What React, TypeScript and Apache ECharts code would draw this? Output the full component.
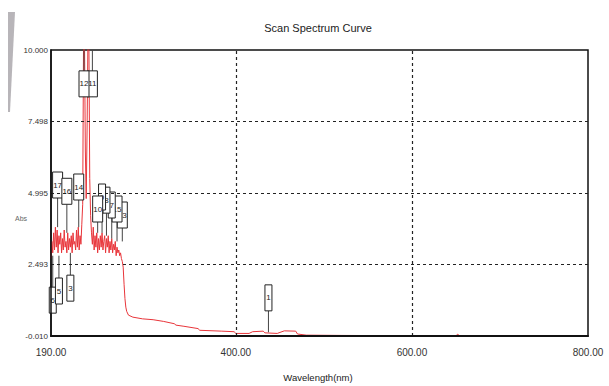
import React, { useEffect, useRef } from "react";
import * as echarts from "echarts";

// ---- data ----
const wavelengths = [
  190, 191, 192, 193, 194, 195, 196, 197, 198, 199,
  200, 201, 202, 203, 204, 205, 206, 207, 208, 209,
  210, 211, 212, 213, 214, 215, 216, 217, 218, 219,
  220, 221, 222, 223, 224, 225, 226, 227, 228, 229,
  230, 231, 232, 233, 234, 235, 236, 237, 238, 239,
  240, 241, 242, 243, 244, 245, 246, 247, 248, 249,
  250, 251, 252, 253, 254, 255, 256, 257, 258, 259,
  260, 261, 262, 263, 264, 265, 266, 267, 268, 269,
  270, 271, 272, 273, 274, 275, 276,
  278, 283, 294, 306, 318, 330, 332, 341, 357, 359,
  384, 398, 400, 415, 419, 431, 433, 447, 455, 468,
  470, 480, 520, 600, 650, 652, 654, 700, 800,
];
const absorbance = [
  2.7, 3.3, 2.9, 3.6, 3.0, 3.8, 3.1, 3.7, 2.9, 3.5,
  3.2, 3.6, 2.9, 3.4, 3.0, 3.7, 3.1, 3.3, 2.9, 3.6,
  3.0, 3.4, 3.1, 3.5, 2.9, 3.6, 3.2, 3.3, 3.0, 3.7,
  3.1, 3.8, 3.0, 3.5, 3.2, 3.9, 4.6, 10.5, 10.5, 6.5,
  4.8, 7.2, 10.5, 10.5, 5.5, 4.2, 3.6, 3.2, 3.8, 3.0,
  3.5, 3.1, 3.6, 2.9, 3.4, 3.0, 3.5, 3.1, 3.6, 3.0,
  3.3, 3.5, 2.9, 3.4, 3.1, 3.5, 2.9, 3.3, 3.0, 3.4,
  2.9, 3.2, 3.0, 3.3, 2.8, 3.1, 2.9, 3.0, 2.8, 2.9,
  2.7, 2.6, 2.4, 1.8, 1.3, 1.0, 0.85,
  0.72, 0.65, 0.59, 0.56, 0.5, 0.42, 0.37, 0.33, 0.25, 0.19,
  0.16, 0.14, 0.08, 0.08, 0.14, 0.16, 0.1, 0.08, 0.17, 0.16,
  0.06, 0.02, 0.01, 0.0, 0.0, 0.05, 0.0, 0.0, 0.0,
];

const xTicks = [190, 400, 600, 800];
const yTicks = [-0.01, 2.493, 4.995, 7.498, 10.0];
const xGridLines = [400, 600];
const yGridLines = [2.493, 4.995, 7.498];

// peak / valley markers
const markerNames = ["13", "15", "7", "8", "9", "10", "11", "12", "17", "16", "14", "6", "5", "3", "1"];
const markerNm = [271, 265, 259, 253, 248, 243, 237, 227.5, 197.5, 208, 221.5, 192, 199, 212, 437];
const markerAbs = [3.3, 3.3, 3.4, 3.5, 3.6, 3.6, 10, 10, 3.8, 3.6, 3.8, 2.8, 2.8, 2.9, 0.12];
// layout of marker boxes (abs level of the box edge nearest the mark, direction)
const markerBoxAt = [3.77, 3.98, 4.12, 4.29, 4.4, 3.98, 8.36, 8.36, 4.82, 4.6, 4.75, 1.7, 2.02, 2.12, 0.87];
const markerDir = [1, 1, 1, 1, 1, 1, 1, 1, 1, 1, 1, -1, -1, -1, 1];

const FONT = "'Liberation Sans', Arial, sans-serif";

export default function App() {
  const ref = useRef<HTMLDivElement>(null);
  useEffect(() => {
    document.body.style.margin = "0";
    const chart = echarts.init(ref.current!, null, { renderer: "svg" });
    const lineData = wavelengths.map((w, i) => [w, absorbance[i]]);
    const markerData = markerNames.map((n, i) => [markerNm[i], markerAbs[i], markerBoxAt[i], markerDir[i]]);

    const option: any = {
      animation: false,
      backgroundColor: "#ffffff",
      grid: {
        left: 51,
        right: 21,
        top: 50,
        bottom: 50,
        show: true,
        borderColor: "#111",
        borderWidth: 1.5,
        backgroundColor: "transparent",
      },
      xAxis: {
        type: "value",
        min: 190,
        max: 800,
        z: 5,
        axisLine: { show: true, onZero: false, lineStyle: { color: "#111", width: 2 } },
        axisTick: { show: false },
        splitLine: { show: false },
        axisLabel: {
          customValues: xTicks,
          formatter: (v: number) => v.toFixed(2),
          fontSize: 10,
          fontFamily: FONT,
          color: "#333",
          margin: 11,
        },
      },
      yAxis: {
        type: "value",
        min: -0.01,
        max: 10,
        z: 5,
        axisLine: { show: true, onZero: false, lineStyle: { color: "#111", width: 1.5 } },
        axisTick: { show: false },
        splitLine: { show: false },
        axisLabel: {
          customValues: yTicks,
          formatter: (v: number) => v.toFixed(3),
          fontSize: 8,
          fontFamily: FONT,
          color: "#333",
          margin: 3,
        },
      },
      graphic: [
        {
          type: "polygon",
          shape: { points: [[8, 12], [15, 12], [10, 112], [8, 112]] },
          style: { fill: "#b8b5b9" },
        },
        {
          type: "text",
          x: 318,
          y: 28,
          style: {
            text: "Scan Spectrum Curve",
            align: "center",
            verticalAlign: "middle",
            fontSize: 11,
            fontFamily: FONT,
            fill: "#222",
          },
        },
        {
          type: "text",
          x: 318,
          y: 377,
          style: {
            text: "Wavelength(nm)",
            align: "center",
            verticalAlign: "middle",
            fontSize: 9.5,
            fontFamily: FONT,
            fill: "#222",
          },
        },
        {
          type: "text",
          x: 21,
          y: 218,
          style: {
            text: "Abs",
            align: "center",
            verticalAlign: "middle",
            fontSize: 7,
            fontFamily: FONT,
            fill: "#666",
          },
        },
      ],
      series: [
        {
          type: "line",
          data: lineData,
          symbol: "none",
          clip: true,
          lineStyle: { color: "#e8353a", width: 1 },
          z: 2,
          markLine: {
            silent: true,
            symbol: "none",
            label: { show: false },
            lineStyle: { color: "#222", width: 1.2, type: [3, 3] },
            data: [
              ...xGridLines.map((x) => ({ xAxis: x })),
              ...yGridLines.map((y) => ({ yAxis: y })),
            ],
          },
        },
        {
          type: "custom",
          data: markerData,
          z: 4,
          renderItem: (params: any, api: any) => {
            const name = markerNames[params.dataIndex];
            const nm = api.value(0);
            const ab = api.value(1);
            const edge = api.value(2);
            const dir = api.value(3);
            const p = api.coord([nm, Math.min(ab, 10)]);
            const e = api.coord([nm, edge]);
            const h = 26;
            const w = name.length > 1 ? 10 : 7;
            const top = dir > 0 ? e[1] - h : e[1];
            return {
              type: "group",
              children: [
                {
                  type: "line",
                  shape: { x1: p[0], y1: p[1], x2: e[0], y2: e[1] },
                  style: { stroke: "#444", lineWidth: 1 },
                },
                {
                  type: "rect",
                  shape: { x: e[0] - w / 2, y: top, width: w, height: h },
                  style: { fill: "#ffffff", stroke: "#222", lineWidth: 1 },
                },
                {
                  type: "text",
                  x: e[0],
                  y: top + h / 2,
                  style: {
                    text: name,
                    align: "center",
                    verticalAlign: "middle",
                    fontSize: 8,
                    fontFamily: FONT,
                    fill: "#222",
                  },
                },
              ],
            };
          },
        },
      ],
    };
    chart.setOption(option);
    return () => chart.dispose();
  }, []);
  return <div ref={ref} style={{ width: 609, height: 386 }} />;
}
